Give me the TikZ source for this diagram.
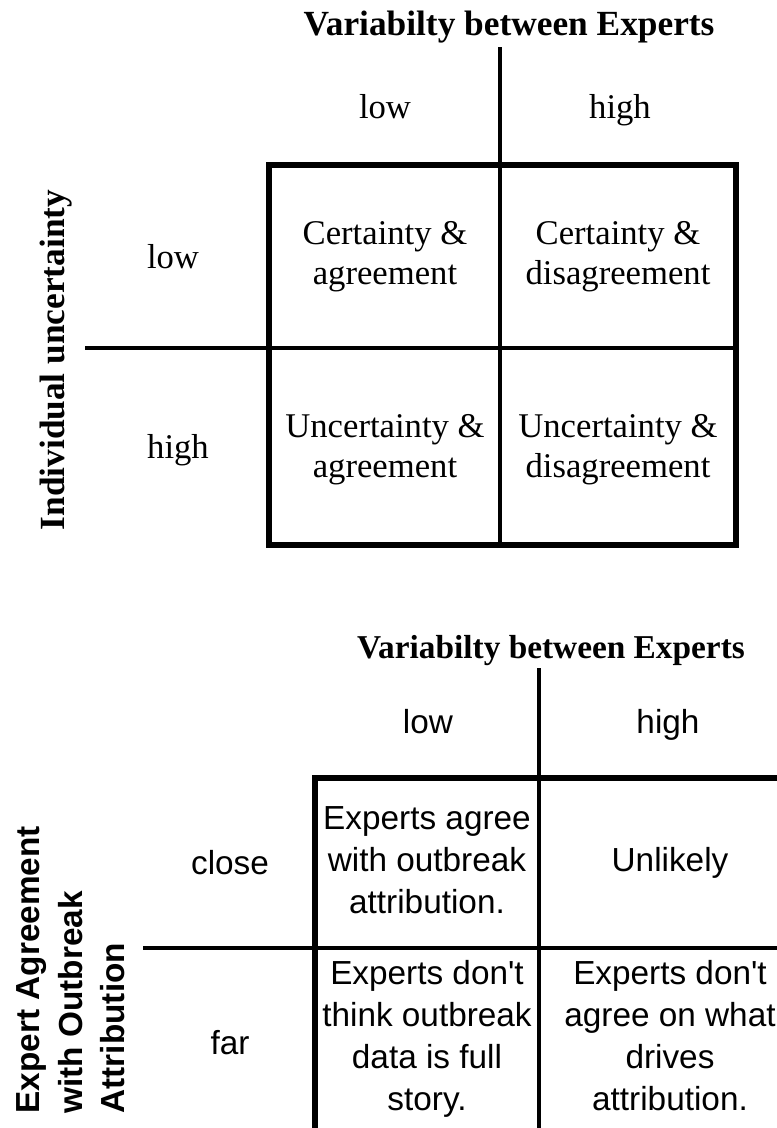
\documentclass[tikz,border=0pt]{standalone}
\usepackage{fontspec}
\setmainfont{Liberation Serif}
\newfontfamily\arialfont{Liberation Sans}
\usetikzlibrary{positioning}

\begin{document}
\begin{tikzpicture}[x=0.75pt, y=-0.75pt,
  axisline/.style={line width=3.5pt},
  frameline/.style={line width=5pt, line join=miter},
  serifcell/.style={font=\fontsize{26}{30}\selectfont, align=center},
  seriftitle/.style={font=\fontsize{26.5}{30}\selectfont\bfseries},
  sanscell/.style={font=\arialfont\fontsize{25}{31.5}\selectfont, align=center},
  sanstitle/.style={font=\arialfont\fontsize{25}{32}\selectfont\bfseries, align=left},
]
  \useasboundingbox (0,0) rectangle (777,1128);
  \clip (0,0) rectangle (777,1128);

  % ---------- upper matrix ----------
  \draw[axisline] (500,47) -- (500,545);
  \draw[axisline] (85,348) -- (736,348);
  \draw[frameline] (269,165) rectangle (736,545);
  % headings
  \node[seriftitle, anchor=base] (varA) at (509,35) {Variabilty between Experts};
  \node[seriftitle, rotate=90] (indA) at (56,360) {Individual uncertainty};
  \node[serifcell, anchor=base] (colLowA) at (385,118) {low};
  \node[serifcell, anchor=base] (colHighA) at (620,118) {high};
  \node[serifcell, anchor=base] (rowLowA) at (173,268) {low};
  \node[serifcell, anchor=base] (rowHighA) at (178,458) {high};
  % cells
  \node[serifcell] (caA) at (385,257) {Certainty \&\\agreement};
  \node[serifcell] (cdA) at (618,257) {Certainty \&\\disagreement};
  \node[serifcell] (uaA) at (385,450) {Uncertainty \&\\agreement};
  \node[serifcell] (udA) at (618,450) {Uncertainty \&\\disagreement};

  % ---------- lower matrix ----------
  \draw[axisline] (539,668) -- (539,1140);
  \draw[axisline] (143,948) -- (801,948);
  \draw[frameline] (315,778) rectangle (801,1139);
  % headings
  \node[seriftitle, font=\fontsize{25}{30}\selectfont\bfseries, anchor=base] (varB) at (551,658) {Variabilty between Experts};
  \node[sanstitle, rotate=90, anchor=west] (expB) at (71,1118) {Expert Agreement\\with Outbreak\\Attribution};
  \node[sanscell, anchor=base] (colLowB) at (428,733) {low};
  \node[sanscell, anchor=base] (colHighB) at (668,733) {high};
  \node[sanscell] (rowCloseB) at (230,863) {close};
  \node[sanscell] (rowFarB) at (230,1043) {far};
  % cells
  \node[sanscell] (agreeB) at (427,860) {Experts agree\\with outbreak\\attribution.};
  \node[sanscell] (unlikelyB) at (670,863) {Unlikely};
  \node[sanscell] (fullB) at (427,1039) {Experts don\textquotesingle t\\think outbreak\\data is full\\story.};
  \node[sanscell] (drivesB) at (670,1036) {Experts don\textquotesingle t\\agree on what\\drives\\attribution.};
\end{tikzpicture}
\end{document}
